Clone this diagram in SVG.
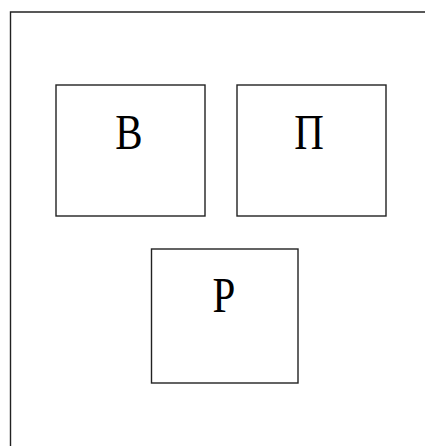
<svg xmlns="http://www.w3.org/2000/svg" width="425" height="446" viewBox="0 0 425 446">
<style>
.box{fill:#fff;stroke:#222;stroke-width:1.4}
.lbl{font-family:"Liberation Serif","Times New Roman",serif;font-size:50px;fill:#000;text-anchor:middle}
</style>
<rect width="425" height="446" fill="#fff"/>
<g id="frame"><path d="M10.5,460 V12 H440" fill="none" stroke="#222" stroke-width="1.4"/></g>
<g id="connectors"></g>
<g id="node-v"><rect class="box" x="56" y="85" width="149" height="131"/><text class="lbl" transform="translate(129,149) scale(0.82,1)">В</text></g>
<g id="node-p"><rect class="box" x="237" y="85" width="149" height="131"/><text class="lbl" transform="translate(309,149) scale(0.82,1)">П</text></g>
<g id="node-r"><rect class="box" x="151.5" y="249" width="146.5" height="134"/><text class="lbl" transform="translate(224,312) scale(0.82,1)">Р</text></g>
</svg>
